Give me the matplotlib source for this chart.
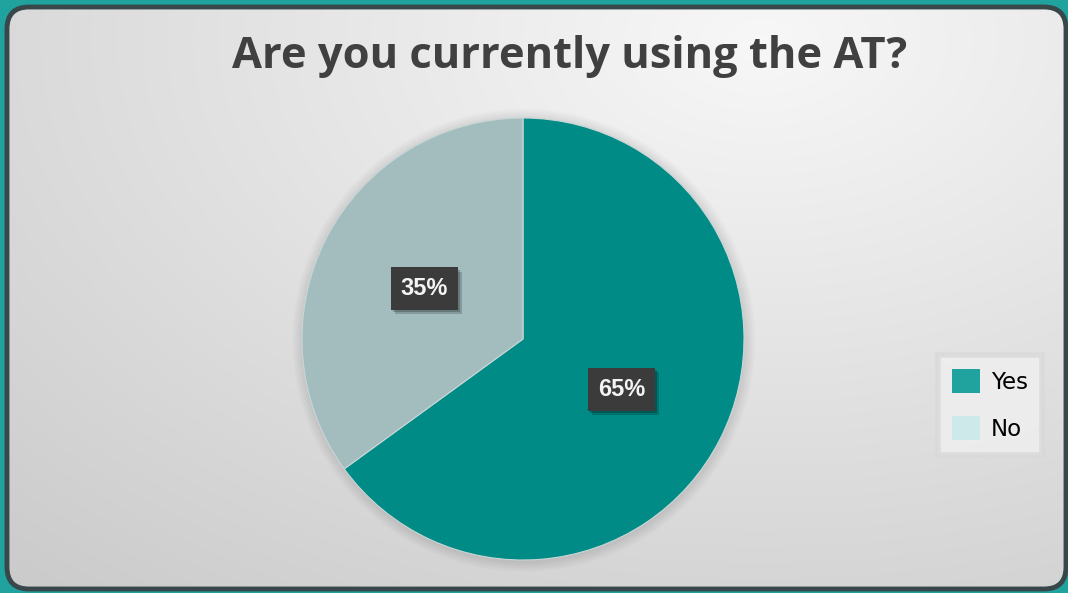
import numpy as np
import matplotlib
matplotlib.use("Agg")
import matplotlib.pyplot as plt
from matplotlib.patches import FancyBboxPatch, Patch, Circle
import matplotlib.patheffects as pe

# survey answers
labels = ["Yes", "No"]
shares = [65, 35]
pie_colors = ["#008b87", "#a3bdbe"]
legend_colors = ["#20a39e", "#cde9e9"]
title = "Are you currently using the AT?"

W, H = 1068, 593
fig = plt.figure(figsize=(W / 100, H / 100), dpi=100)
fig.patch.set_facecolor("#20a39e")

# panel background: grey gradient, lightest near the top, inside a rounded frame
bg = fig.add_axes([0, 0, 1, 1])
bg.set_xlim(0, W)
bg.set_ylim(H, 0)
bg.axis("off")
yy, xx = np.mgrid[0:H, 0:W]
r = np.sqrt(((xx - 760) / 1100.0) ** 2 + ((yy - 40) / 700.0) ** 2)
shade = np.clip(0.97 - 0.17 * r, 0.78, 0.97)
rgb = np.dstack([shade, shade, shade])
frame = FancyBboxPatch((7, 7), W - 9, H - 11,
                       boxstyle="round,pad=0,rounding_size=22",
                       facecolor="none", edgecolor="#37474a", lw=3.5, zorder=3)
bg.add_patch(frame)
img = bg.imshow(rgb, extent=(0, W, H, 0), zorder=1, interpolation="bilinear")
img.set_clip_path(frame)

fig.text(570 / W, 1 - 57 / H, title, ha="center", va="center",
         fontsize=31.3, fontweight="bold", color="#404040", family="Open Sans")

# pie: centre (523, 339) px, radius 221 px
cx, cy, rad = 523, 339, 221
ax = fig.add_axes([(cx - rad) / W, (H - cy - rad) / H, 2 * rad / W, 2 * rad / H])
ax.patch.set_visible(False)
# soft shadow around the disc
for k in range(8):
    ax.add_patch(Circle((0.004, -0.006), 1.0 + 0.006 * (k + 1), facecolor="black",
                        edgecolor="none", alpha=0.013, clip_on=False, zorder=0))
wedges, _, autotexts = ax.pie(
    shares, colors=pie_colors, startangle=90, counterclock=False,
    autopct=lambda p: f"{p:.0f}%", pctdistance=0.5,
    wedgeprops=dict(edgecolor="#c9d6d6", linewidth=0.8, zorder=2))
ax.set_xlim(-1, 1)
ax.set_ylim(-1, 1)
ax.set_aspect("equal")
for t in autotexts:
    t.set_color("#f4f4f4")
    t.set_fontsize(17)
    t.set_fontweight("bold")
    t.set_family("Liberation Sans")
    t.set_zorder(5)
    t.set_bbox(dict(boxstyle="square,pad=0.42", facecolor="#3b3b3b", edgecolor="none"))
    t.get_bbox_patch().set_path_effects(
        [pe.SimplePatchShadow(offset=(3, -3), shadow_rgbFace="black", alpha=0.18),
         pe.SimplePatchShadow(offset=(1.5, -1.5), shadow_rgbFace="black", alpha=0.22),
         pe.Normal()])

handles = [Patch(facecolor=c, edgecolor="none") for c in legend_colors]
leg = fig.legend(handles, labels, loc="center", bbox_to_anchor=(990 / W, 1 - 405 / H),
                 frameon=True, fancybox=False, fontsize=16.5, handlelength=1.22,
                 handleheight=1.22, handletextpad=0.5, labelspacing=1.0,
                 borderpad=0.62, borderaxespad=0)
leg.get_frame().set_facecolor("#f0f0f0")
leg.get_frame().set_edgecolor("#d9d9d9")
leg.get_frame().set_linewidth(4)

fig.savefig("out.png", dpi=100, facecolor=fig.get_facecolor())
